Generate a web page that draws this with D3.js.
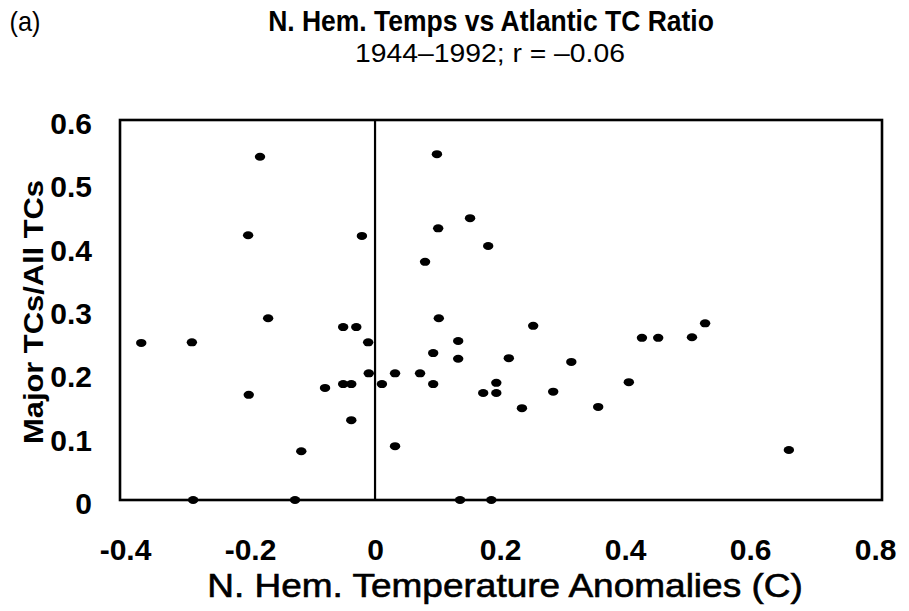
<!DOCTYPE html>
<html>
<head>
<meta charset="utf-8">
<script src="https://cdn.jsdelivr.net/npm/d3@7"></script>
<style>
  html, body { margin: 0; padding: 0; background: #fff; }
  svg { display: block; }
  text { font-family: "Liberation Sans", Arial, Helvetica, sans-serif; fill: #000; }
</style>
</head>
<body>
<svg id="chart" width="909" height="611"></svg>
<script>
// ---- data ----
const temps = [
  -0.184, -0.203, -0.021, 0.099, 0.152, 0.101, 0.181, 0.080, -0.171, 0.102,
  -0.374, -0.293, -0.051, -0.030, -0.011, 0.253, 0.133, 0.093, 0.133, 0.214,
  0.314, -0.010, 0.032, 0.072, 0.093, 0.011, -0.080, -0.051, -0.038, -0.202,
  0.194, 0.173, 0.194, 0.285, 0.235, 0.357, 0.406, 0.427, 0.453, 0.507,
  0.528, -0.038, -0.118, 0.032, 0.662, -0.291, -0.128, 0.136, 0.186
];
const ratios = [
  0.542, 0.418, 0.417, 0.546, 0.445, 0.429, 0.401, 0.376, 0.287, 0.287,
  0.248, 0.249, 0.273, 0.273, 0.249, 0.275, 0.251, 0.232, 0.223, 0.224,
  0.218, 0.200, 0.200, 0.200, 0.183, 0.183, 0.177, 0.183, 0.183, 0.166,
  0.185, 0.169, 0.169, 0.171, 0.145, 0.147, 0.186, 0.256, 0.256, 0.257,
  0.279, 0.126, 0.077, 0.085, 0.079, 0, 0, 0, 0
];
const xTicks = [-0.4, -0.2, 0, 0.2, 0.4, 0.6, 0.8];
const xTickLabels = ["-0.4", "-0.2", "0", "0.2", "0.4", "0.6", "0.8"];
const yTicks = [0, 0.1, 0.2, 0.3, 0.4, 0.5, 0.6];
const yTickLabels = ["0", "0.1", "0.2", "0.3", "0.4", "0.5", "0.6"];
const panelLabel = "(a)";
const titleText = "N. Hem. Temps vs Atlantic TC Ratio";
const subtitleText = "1944\u20131992; r = \u20130.06";
const xTitle = "N. Hem. Temperature Anomalies (C)";
const yTitle = "Major TCs/All TCs";

// ---- layout ----
const svg = d3.select("#chart");
const pL = 120, pR = 882, pT = 120, pB = 500;
const x = d3.scaleLinear().domain([-0.408, 0.811]).range([pL, pR]);
const y = d3.scaleLinear().domain([0, 0.6]).range([pB, pT]);

// condensed text: fixed font size (height), horizontally squeezed to a target width
function condensed(cx, cy, size, weight, str, targetW, extra) {
  const g = svg.append("g");
  const t = g.append("text").attr("text-anchor", "middle")
    .attr("font-size", size).attr("font-weight", weight).text(str);
  if (extra) extra(t);
  const w = t.node().getComputedTextLength();
  const s = w > 0 ? targetW / w : 1;
  g.attr("transform", `translate(${cx},${cy}) scale(${s.toFixed(4)},1)`);
  return t;
}

// zero line
svg.append("line")
  .attr("x1", x(0)).attr("x2", x(0))
  .attr("y1", y(0.6)).attr("y2", y(0))
  .attr("stroke", "#000").attr("stroke-width", 2.2);

// frame
svg.append("rect")
  .attr("x", pL).attr("y", pT)
  .attr("width", pR - pL).attr("height", pB - pT)
  .attr("fill", "none").attr("stroke", "#000").attr("stroke-width", 2.6);

// points
svg.append("g").selectAll("ellipse")
  .data(temps.map((t, i) => [t, ratios[i]]))
  .join("ellipse")
  .attr("cx", d => x(d[0]))
  .attr("cy", d => y(d[1]))
  .attr("rx", 5.2).attr("ry", 4)
  .attr("fill", "#000");

// x axis labels
const xAxis = d3.axisBottom(x).tickValues(xTicks)
  .tickFormat((d, i) => xTickLabels[i]).tickSize(0).tickPadding(39);
const gx = svg.append("g").attr("transform", `translate(0,${pB})`).call(xAxis);
gx.select(".domain").remove();
gx.selectAll("text")
  .attr("font-family", "Liberation Sans, Arial, sans-serif")
  .attr("font-size", 30).attr("font-weight", "bold").attr("fill", "#000");

// y axis labels
const yAxis = d3.axisLeft(y).tickValues(yTicks)
  .tickFormat((d, i) => yTickLabels[i]).tickSize(0).tickPadding(28);
const gy = svg.append("g").attr("transform", `translate(${pL},0)`).call(yAxis);
gy.select(".domain").remove();
gy.selectAll("text")
  .attr("font-family", "Liberation Sans, Arial, sans-serif")
  .attr("font-size", 30).attr("font-weight", "bold").attr("fill", "#000")
  .attr("dy", "0.45em");

// titles
condensed(25, 31, 28, "normal", panelLabel, 31);
condensed(491, 31, 30, "bold", titleText, 446);
condensed(490, 62, 26, "normal", subtitleText, 270);
condensed(505, 597, 33, "normal", xTitle, 596,
  t => t.attr("stroke", "#000").attr("stroke-width", 0.6));

const ty = svg.append("g").attr("transform", "translate(43,312) rotate(-90)");
const tyt = ty.append("text").attr("text-anchor", "middle").attr("font-weight", "bold")
  .attr("font-size", 27).text(yTitle);
{
  const w = tyt.node().getComputedTextLength();
  if (w > 0) ty.attr("transform", `translate(43,312) rotate(-90) scale(${(264 / w).toFixed(4)},1)`);
}
</script>
</body>
</html>
